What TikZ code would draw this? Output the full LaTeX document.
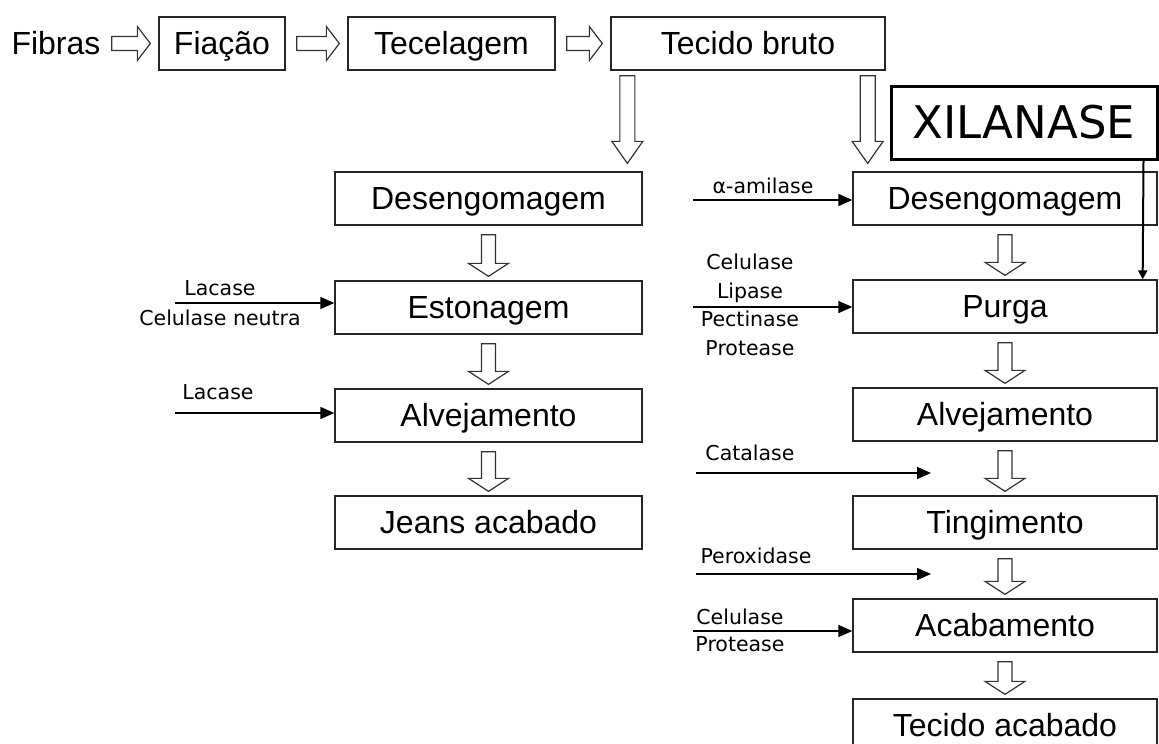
\documentclass[tikz,border=0pt]{standalone}
\usepackage{fontspec}
\setmainfont{Liberation Sans}
\newfontfamily\enzfont{DejaVu Sans}
\usetikzlibrary{arrows.meta,calc}

\begin{document}
\begin{tikzpicture}[x=1pt,y=-1pt,
  box/.style={draw=black!85,line width=1.3pt,inner sep=0pt,minimum height=53pt,text height=22pt,text depth=1pt,font=\fontsize{32}{36}\selectfont},
  enz/.style={font=\enzfont\fontsize{20.5}{28.7}\selectfont,align=center,inner sep=0pt},
  feed/.style={line width=1.5pt,-{Triangle[length=14pt,width=12pt]}},
  hollow/.style={draw=black!80,line width=1.2pt,fill=white},
  hollowright/.style={hollow,to path={let \p1=(\tikztostart),\p2=(\tikztotarget) in
    ({\x1+11pt},{\y1+7pt}) -- ({\x2-21pt},{\y1+7pt}) -- ({\x2-21pt},{\y1+17pt}) -- ({\x2-8pt},{\y1})
    -- ({\x2-21pt},{\y1-17pt}) -- ({\x2-21pt},{\y1-7pt}) -- ({\x1+11pt},{\y1-7pt}) -- cycle}},
  smalldown/.style={hollow,to path={let \p1=(\tikztostart),\p2=(\tikztotarget) in
    ({\x1-7pt},{\y1-9pt}) -- ({\x1-7pt},{\y2+17pt}) -- ({\x1-20pt},{\y2+17pt}) -- ({\x1},{\y2+4pt})
    -- ({\x1+20pt},{\y2+17pt}) -- ({\x1+7pt},{\y2+17pt}) -- ({\x1+7pt},{\y1-9pt}) -- cycle}},
  talldown/.style={hollow,to path={let \p1=(\tikztostart),\p2=(\tikztotarget) in
    ({\x1-7.5pt},{\y1-5pt}) -- ({\x1-7.5pt},{\y2+30pt}) -- ({\x1-15.5pt},{\y2+30pt}) -- ({\x1},{\y2+8pt})
    -- ({\x1+15.5pt},{\y2+30pt}) -- ({\x1+7.5pt},{\y2+30pt}) -- ({\x1+7.5pt},{\y1-5pt}) -- cycle}}]
  \useasboundingbox (0,0) rectangle (1159,744);
  \clip (0,0) rectangle (1159,744);

  \node[inner sep=0pt,text height=22pt,text depth=1pt,font=\fontsize{32}{36}\selectfont] (fib) at (56,43.5) {Fibras};
  \node[box,minimum width=126pt] (fia) at (222,43.5) {Fiação};
  \node[box,minimum width=207pt] (tec) at (451.5,43.5) {Tecelagem};
  \node[box,minimum width=274pt] (tb) at (748,43.5) {Tecido bruto};
  \draw[hollowright] (fib.east) to (fia.west);
  \draw[hollowright] (fia.east) to (tec.west);
  \draw[hollowright] (tec.east) to (tb.west);

  \node[box,minimum width=307pt] (dL) at (488.5,198.5) {Desengomagem};
  \node[box,minimum width=307pt] (esL) at (488.5,307.5) {Estonagem};
  \node[box,minimum width=307pt] (alL) at (488.5,415.5) {Alvejamento};
  \node[box,minimum width=307pt] (jL) at (488.5,522.5) {Jeans acabado};

  \node[box,minimum width=304pt] (dR) at (1005,198.5) {Desengomagem};
  \node[box,minimum width=304pt] (pu) at (1005,306.5) {Purga};
  \node[box,minimum width=304pt] (alR) at (1005,414.5) {Alvejamento};
  \node[box,minimum width=304pt] (ti) at (1005,522.5) {Tingimento};
  \node[box,minimum width=304pt] (ac) at (1005,625.5) {Acabamento};
  \node[box,minimum width=304pt] (ta) at (1005,725.5) {Tecido acabado};

  \draw[talldown] ([xshift=17pt]tb.south west) to (dL.north);
  \draw[talldown] ([xshift=-18pt]tb.south east) to (dR.north);
  \draw[smalldown] (dL.south) to (esL.north);
  \draw[smalldown] (esL.south) to (alL.north);
  \draw[smalldown] (alL.south) to (jL.north);
  \draw[smalldown] (dR.south) to (pu.north);
  \draw[smalldown] (pu.south) to (alR.north);
  \draw[smalldown] (alR.south) to (ti.north);
  \draw[smalldown] (ti.south) to (ac.north);
  \draw[smalldown] (ac.south) to (ta.north);

  \node[draw,line width=3pt,inner sep=0pt,minimum width=266pt,minimum height=73pt,
    font=\enzfont\fontsize{45}{50}\selectfont] (xi) at (1024,122.5) {XILANASE};
  \draw[line width=2pt,-{Triangle[length=9pt,width=9pt]}] ([xshift=-15pt]xi.south east) -- ([xshift=-15pt]pu.north east);

  \coordinate (c1) at (175,303);
  \coordinate (c2) at (175,413);
  \coordinate (c3) at (693,200);
  \coordinate (c4) at (693,307);
  \coordinate (c5) at (696,473);
  \coordinate (c5e) at (931,473);
  \coordinate (c6) at (696,574);
  \coordinate (c6e) at (931,574);
  \coordinate (c7) at (693,631);
  \draw[feed] (c1) -- (c1 -| esL.west);
  \draw[feed] (c2) -- (c2 -| alL.west);
  \draw[feed] (c3) -- (c3 -| dR.west);
  \draw[feed] (c4) -- (c4 -| pu.west);
  \draw[feed] (c5) -- (c5e);
  \draw[feed] (c6) -- (c6e);
  \draw[feed] (c7) -- (c7 -| ac.west);

  \node[enz,font=\enzfont\fontsize{20.5}{30}\selectfont] (e1) at (220,303) {Lacase\\Celulase neutra};
  \node[enz] (e2) at (218,392) {Lacase};
  \node[enz] (e3) at (763,186) {α-amilase};
  \node[enz] (e4) at (750,305) {Celulase\\Lipase\\Pectinase\\Protease};
  \node[enz] (e5) at (750,453) {Catalase};
  \node[enz] (e6) at (756,556) {Peroxidase};
  \node[enz,font=\enzfont\fontsize{20.5}{27}\selectfont] (e7) at (740,630.5) {Celulase\\Protease};
\end{tikzpicture}
\end{document}
